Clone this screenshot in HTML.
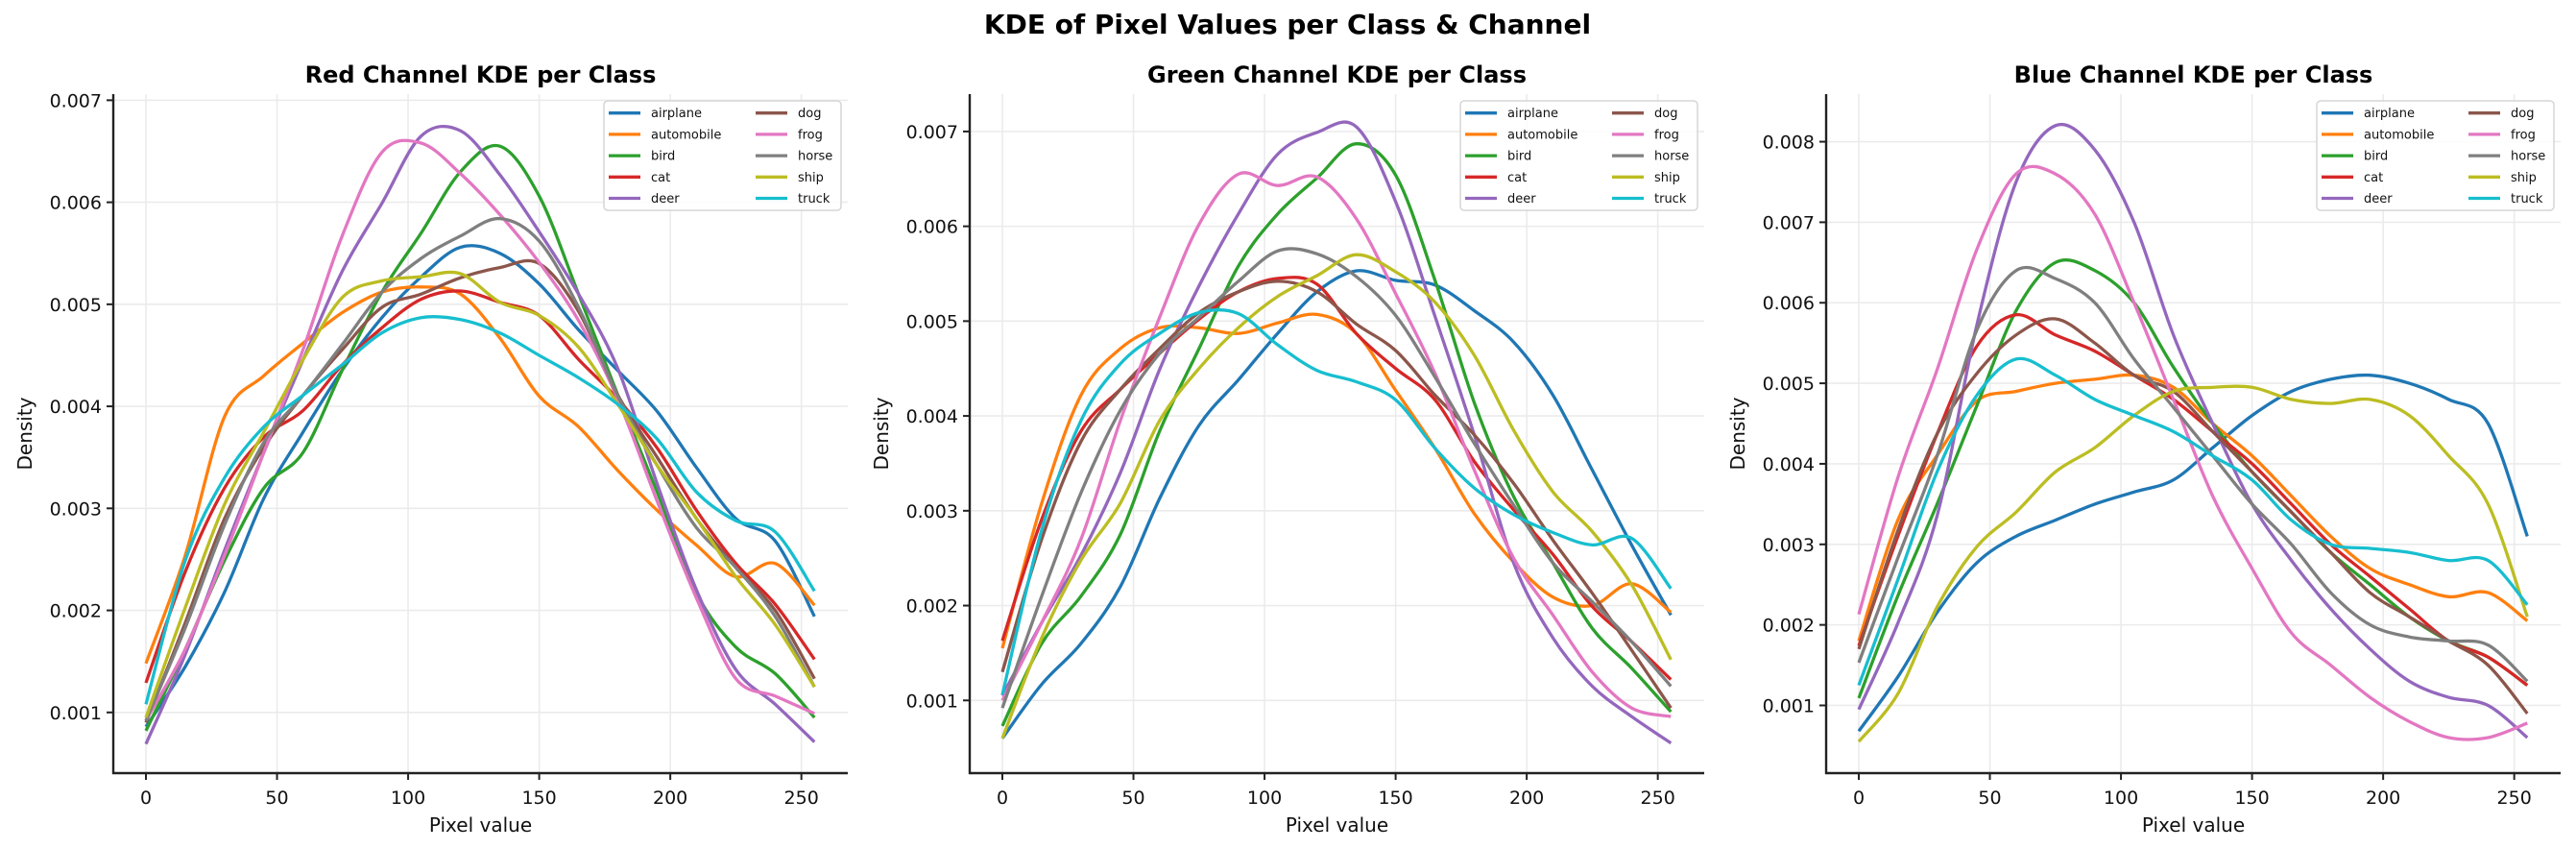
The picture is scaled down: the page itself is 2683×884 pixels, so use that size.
<!DOCTYPE html>
<html><head><meta charset="utf-8"><style>
html,body{margin:0;padding:0;background:#fff;}
svg{display:block;font-family:"DejaVu Sans","Liberation Sans",sans-serif;}
</style></head>
<body>
<svg id="fig" width="2683" height="884" viewBox="0 0 2683 884" xmlns="http://www.w3.org/2000/svg">
<rect width="2683" height="884" fill="#fff"/>
<text x="1341" y="35" text-anchor="middle" font-size="28" font-weight="bold" fill="#000">KDE of Pixel Values per Class &amp; Channel</text>
</svg>
<script>
const classes = ["airplane","automobile","bird","cat","deer","dog","frog","horse","ship","truck"];
const colors = ["#1f77b4","#ff7f0e","#2ca02c","#d62728","#9467bd","#8c564b","#e377c2","#7f7f7f","#bcbd22","#17becf"];
const xs = [0,15,30,45,60,75,90,105,120,135,150,165,180,195,210,225,240,255];
const xTicks = [0,50,100,150,200,250];
const redTicks = [0.001,0.002,0.003,0.004,0.005,0.006,0.007];
const greenTicks = [0.001,0.002,0.003,0.004,0.005,0.006,0.007];
const blueTicks = [0.001,0.002,0.003,0.004,0.005,0.006,0.007,0.008];
const redData = [
[0.00086,0.00145,0.00218,0.0031,0.00375,0.00436,0.00487,0.00527,0.00556,0.0055,0.0052,0.00475,0.00435,0.00395,0.0034,0.0029,0.00268,0.00194],
[0.00148,0.00254,0.0039,0.0043,0.00462,0.00492,0.00512,0.00517,0.0051,0.00467,0.0041,0.0038,0.00337,0.00298,0.00264,0.00233,0.00246,0.00205],
[0.00082,0.00162,0.00249,0.0032,0.00355,0.00436,0.00512,0.0057,0.0063,0.00655,0.00606,0.0051,0.00411,0.00316,0.00217,0.00164,0.00138,0.00095],
[0.00129,0.00238,0.0032,0.0037,0.00396,0.00441,0.00477,0.00505,0.00513,0.00502,0.00489,0.00446,0.00407,0.00359,0.00298,0.00246,0.00206,0.00152],
[0.00069,0.00157,0.00259,0.00355,0.00446,0.00533,0.00599,0.00665,0.0067,0.00627,0.00571,0.0051,0.00437,0.00324,0.0022,0.00142,0.00108,0.00071],
[0.0009,0.00188,0.0029,0.0036,0.00411,0.00456,0.00497,0.0051,0.00526,0.00536,0.0054,0.00493,0.00411,0.0035,0.0029,0.00242,0.002,0.00133],
[0.00092,0.00162,0.00254,0.00355,0.00456,0.00568,0.00649,0.00658,0.00628,0.00588,0.00541,0.00484,0.00407,0.00307,0.00212,0.00133,0.00116,0.00099],
[0.00092,0.00183,0.00284,0.00365,0.00411,0.00461,0.00512,0.00545,0.00567,0.00584,0.00562,0.00497,0.0041,0.00342,0.00281,0.00242,0.00194,0.00125],
[0.00095,0.00203,0.00304,0.00375,0.00446,0.00507,0.00523,0.00527,0.0053,0.00502,0.00489,0.00458,0.00402,0.00342,0.0029,0.00233,0.00186,0.00125],
[0.00108,0.00249,0.0033,0.0038,0.00411,0.00441,0.00472,0.00487,0.00485,0.00472,0.0045,0.00428,0.00402,0.00368,0.00316,0.00288,0.00277,0.00219]];
const greenData = [
[0.0006,0.00117,0.0016,0.0022,0.00313,0.0039,0.00438,0.00487,0.00531,0.00553,0.00543,0.00538,0.00511,0.00478,0.00422,0.00343,0.00264,0.0019],
[0.00155,0.00308,0.00422,0.00471,0.00493,0.00493,0.00487,0.00498,0.00507,0.00487,0.00427,0.00366,0.00297,0.00246,0.00209,0.002,0.00223,0.00193],
[0.00073,0.0016,0.0021,0.00275,0.00384,0.00471,0.00558,0.00613,0.00651,0.00687,0.00654,0.00543,0.00414,0.00315,0.00245,0.00176,0.00134,0.00088],
[0.00163,0.00291,0.00384,0.00428,0.00466,0.00502,0.00531,0.00545,0.00539,0.00487,0.0045,0.00417,0.00352,0.00301,0.00254,0.00199,0.00162,0.00122],
[0.00105,0.00182,0.00253,0.0034,0.00449,0.00537,0.00613,0.00676,0.00699,0.00705,0.00626,0.00505,0.0038,0.00245,0.00166,0.00115,0.00083,0.00055],
[0.0013,0.0027,0.00373,0.00428,0.00471,0.00509,0.00531,0.00542,0.00531,0.00497,0.00469,0.00422,0.0038,0.00329,0.00269,0.00213,0.00153,0.00092],
[0.001,0.00182,0.0027,0.00395,0.00504,0.00602,0.00655,0.00643,0.00652,0.00608,0.00529,0.00445,0.00343,0.0025,0.0019,0.0013,0.00092,0.00083],
[0.00092,0.0021,0.00319,0.00406,0.00466,0.00504,0.00542,0.00574,0.00571,0.00547,0.00506,0.00441,0.00371,0.00306,0.00245,0.00204,0.00162,0.00115],
[0.0006,0.00166,0.00248,0.00308,0.00395,0.0045,0.00493,0.00526,0.00548,0.0057,0.00552,0.0052,0.00464,0.00385,0.0032,0.00278,0.00222,0.00143],
[0.00106,0.0028,0.00395,0.00455,0.00487,0.00509,0.00508,0.00475,0.00448,0.00436,0.00417,0.00366,0.00324,0.00296,0.00277,0.00264,0.00271,0.00218]];
const blueData = [
[0.00068,0.00136,0.00216,0.00277,0.0031,0.0033,0.0035,0.00365,0.0038,0.0042,0.0046,0.0049,0.00505,0.0051,0.005,0.0048,0.0045,0.0031],
[0.0018,0.00331,0.00411,0.00478,0.0049,0.005,0.00505,0.0051,0.00495,0.0045,0.0041,0.0036,0.0031,0.0027,0.0025,0.00235,0.0024,0.00205],
[0.00109,0.00237,0.00351,0.00472,0.0059,0.0065,0.0064,0.006,0.0052,0.0045,0.0039,0.0034,0.0029,0.0025,0.0021,0.0018,0.0016,0.00125],
[0.00174,0.00311,0.00438,0.00546,0.00585,0.0056,0.0054,0.0051,0.0048,0.0044,0.004,0.0035,0.003,0.0026,0.0022,0.0018,0.0016,0.00125],
[0.00095,0.00203,0.00337,0.00572,0.0075,0.0082,0.0079,0.007,0.0056,0.0045,0.0035,0.0028,0.0022,0.0017,0.0013,0.0011,0.001,0.0006],
[0.0017,0.00318,0.00438,0.00512,0.0056,0.0058,0.0055,0.0051,0.0049,0.0044,0.0039,0.0034,0.0029,0.0024,0.0021,0.0018,0.0015,0.0009],
[0.00213,0.00384,0.00518,0.00666,0.0076,0.0076,0.0071,0.006,0.0048,0.0036,0.0027,0.0019,0.0015,0.0011,0.0008,0.0006,0.0006,0.00078],
[0.00153,0.00284,0.00411,0.00566,0.0064,0.0063,0.006,0.0053,0.0047,0.0041,0.0035,0.003,0.0024,0.002,0.00185,0.0018,0.00175,0.0013],
[0.00055,0.00115,0.00223,0.00297,0.0034,0.0039,0.0042,0.0046,0.0049,0.00495,0.00495,0.0048,0.00475,0.0048,0.0046,0.0041,0.0035,0.0021],
[0.00125,0.00257,0.00391,0.00485,0.0053,0.0051,0.0048,0.0046,0.0044,0.0041,0.0038,0.0033,0.003,0.00295,0.0029,0.0028,0.0028,0.00225]];

const NS = "http://www.w3.org/2000/svg";
const svg = document.getElementById("fig");
function mk(tag, attrs, parent){ const e=document.createElementNS(NS,tag); for(const k in attrs) e.setAttribute(k,attrs[k]); (parent||svg).appendChild(e); return e; }

const panels = [
 {title:"Red Channel KDE per Class", key:"red", data:redData, ticks:redTicks, ymin:0.000405, ymax:0.00706},
 {title:"Green Channel KDE per Class", key:"green", data:greenData, ticks:greenTicks, ymin:0.000233, ymax:0.007394},
 {title:"Blue Channel KDE per Class", key:"blue", data:blueData, ticks:blueTicks, ymin:0.000159, ymax:0.008591}
];
const xmin=-12.45, xmax=267.7;

panels.forEach((p,k)=>{
  const L=118+892*k, R=883+892*k, T=98, B=805;
  const g = mk("g",{});
  
  
  const X = v => L + (v-xmin)/(xmax-xmin)*(R-L);
  const Y = v => B - (v-p.ymin)/(p.ymax-p.ymin)*(B-T);
  xTicks.forEach(t=>{
    const l=mk("line",{x1:X(t),x2:X(t),y1:T,y2:B,stroke:"#ebebeb","stroke-width":1.6},g);
    
    
  });
  p.ticks.forEach(t=>{
    const l=mk("line",{x1:L,x2:R,y1:Y(t),y2:Y(t),stroke:"#ebebeb","stroke-width":1.6},g);
    
    
  });
  p.data.forEach((ys,ci)=>{
    const pts = xs.map((x,i)=>[X(x),Y(ys[i])]);
    let d = "M"+pts[0][0].toFixed(1)+","+pts[0][1].toFixed(1);
    for(let i=0;i<pts.length-1;i++){
      const p0=pts[Math.max(0,i-1)], p1=pts[i], p2=pts[i+1], p3=pts[Math.min(pts.length-1,i+2)];
      const c1=[p1[0]+(p2[0]-p0[0])/6, p1[1]+(p2[1]-p0[1])/6];
      const c2=[p2[0]-(p3[0]-p1[0])/6, p2[1]-(p3[1]-p1[1])/6];
      d+=" C"+c1[0].toFixed(1)+","+c1[1].toFixed(1)+" "+c2[0].toFixed(1)+","+c2[1].toFixed(1)+" "+p2[0].toFixed(1)+","+p2[1].toFixed(1);
    }
    const path=mk("path",{d:d,fill:"none",stroke:colors[ci],"stroke-width":3.3,"stroke-linejoin":"round"},g);
    
    
  });
  const sl=mk("line",{x1:L,x2:L,y1:T,y2:B+1,stroke:"#222","stroke-width":2.4},g);
  
  
  const sb=mk("line",{x1:L-1,x2:R,y1:B,y2:B,stroke:"#222","stroke-width":2.4},g);
  
  
  xTicks.forEach(t=>{
    mk("line",{x1:X(t),x2:X(t),y1:B,y2:B+7,stroke:"#222","stroke-width":2},g);
    const tx=mk("text",{x:X(t),y:B+32,"text-anchor":"middle","font-size":19,fill:"#111"},g);
    tx.textContent=String(t);
    
    
  });
  p.ticks.forEach(t=>{
    mk("line",{x1:L-7,x2:L,y1:Y(t),y2:Y(t),stroke:"#222","stroke-width":2},g);
    const tx=mk("text",{x:L-12,y:Y(t)+7,"text-anchor":"end","font-size":19,fill:"#111"},g);
    tx.textContent=t.toFixed(3);
    
    
  });
  const xl=mk("text",{x:(L+R)/2,y:866,"text-anchor":"middle","font-size":20,fill:"#111"},g);
  xl.textContent="Pixel value";
  
  
  const yl=mk("text",{x:0,y:0,"text-anchor":"middle","font-size":20,fill:"#111",transform:"translate("+(L-85)+","+((T+B)/2)+") rotate(-90)"},g);
  yl.textContent="Density";
  
  
  const ti=mk("text",{x:(L+R)/2,y:86,"text-anchor":"middle","font-size":24,"font-weight":"bold",fill:"#000"},g);
  ti.textContent=p.title;
  
  
  const lg=mk("g",{},g);
  
  
  const lx=L+511, ly=105;
  mk("rect",{x:lx,y:ly,width:247,height:114,rx:4,fill:"#fff","fill-opacity":0.85,stroke:"#d6d6d6","stroke-width":1.5},lg);
  classes.forEach((c,ci)=>{
    const col=Math.floor(ci/5), row=ci%5;
    const x0=lx+5+col*153, y0=ly+12.7+row*22.2;
    mk("line",{x1:x0,x2:x0+33,y1:y0,y2:y0,stroke:colors[ci],"stroke-width":3.3},lg);
    const lt=mk("text",{x:x0+44,y:y0+4.5,"font-size":13,fill:"#111"},lg);
    lt.textContent=c;
    
    
  });
});
</script>
</body></html>
